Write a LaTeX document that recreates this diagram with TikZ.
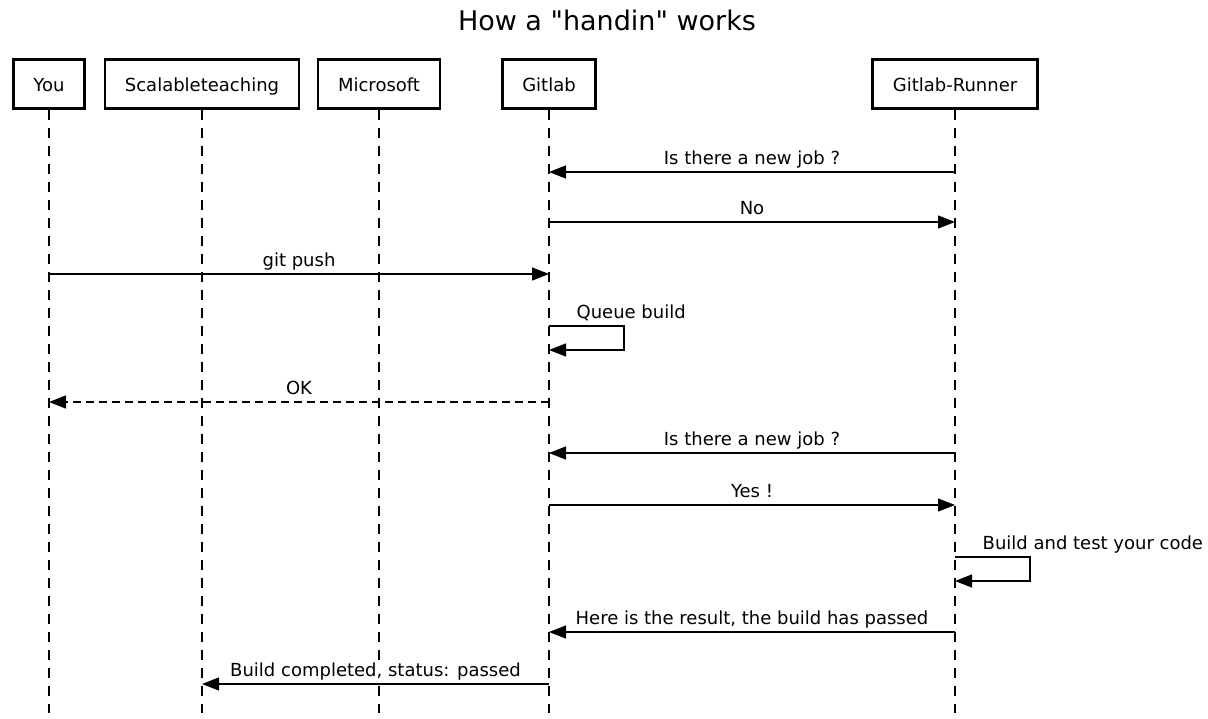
\documentclass[tikz,border=0pt]{standalone}
\usepackage{fontspec}
\setmainfont{DejaVu Sans}
\usetikzlibrary{arrows.meta}

\tikzset{
  actor/.style={draw, line width=2.8pt, inner xsep=20pt, minimum height=49pt, text height=14pt, text depth=0pt, font=\fontsize{18}{21}\selectfont},
  lifeline/.style={line width=1.1pt, dash pattern=on 10pt off 8pt},
  msg/.style={line width=1.3pt, -{Triangle[length=17pt,width=13pt]}},
  reply/.style={msg, dash pattern=on 8pt off 5pt},
  lbl/.style={anchor=base, yshift=8pt, fill=white, inner sep=1pt, font=\fontsize{18}{21}\selectfont},
  selflbl/.style={anchor=base west, xshift=26pt, yshift=8pt, inner sep=1pt, font=\fontsize{18}{21}\selectfont}
}

\begin{document}
\begin{tikzpicture}[x=1pt, y=-1pt]
\useasboundingbox (0,0) rectangle (1208,718);

\node (title) at (607,20) {\fontsize{27}{32}\selectfont How a \textquotedbl handin\textquotedbl{} works};

% participants
\node (you) [actor] at (49,84) {You};
\node (scal) [actor] at (202,84) {Scalableteaching};
\node (ms) [actor] at (379,84) {Microsoft};
\node (gitlab) [actor] at (549,84) {Gitlab};
\node (runner) [actor] at (955,84) {Gitlab-Runner};

\coordinate (bottom) at (0,713);
\foreach \p in {you, scal, ms, gitlab, runner}
  \draw[lifeline] (\p.south) -- (\p |- bottom);

% message rows
\coordinate (r1) at (0,172);
\coordinate (r2) at (0,222);
\coordinate (r3) at (0,274);
\coordinate (r4) at (0,326);
\coordinate (r5) at (0,402);
\coordinate (r6) at (0,453);
\coordinate (r7) at (0,505);
\coordinate (r8) at (0,557);
\coordinate (r9) at (0,632);
\coordinate (r10) at (0,684);

\draw[msg] (runner |- r1) -- node[lbl]{Is there a new job ?} (gitlab |- r1);
\draw[msg] (gitlab |- r2) -- node[lbl]{No} (runner |- r2);
\draw[msg] (you |- r3) -- node[lbl]{git push} (gitlab |- r3);
\draw[msg] (gitlab |- r4) node[selflbl]{Queue build} -- ++(75,0) |- ([yshift=-24pt]gitlab |- r4);
\draw[reply] (gitlab |- r5) -- node[lbl]{OK} (you |- r5);
\draw[msg] (runner |- r6) -- node[lbl]{Is there a new job ?} (gitlab |- r6);
\draw[msg] (gitlab |- r7) -- node[lbl]{Yes !} (runner |- r7);
\draw[msg] (runner |- r8) node[selflbl]{Build and test your code} -- ++(75,0) |- ([yshift=-24pt]runner |- r8);
\draw[msg] (runner |- r9) -- node[lbl]{Here is the result, the build has passed} (gitlab |- r9);
\draw[msg] (gitlab |- r10) -- node[lbl]{Build completed, status: passed} (scal |- r10);
\end{tikzpicture}
\end{document}
